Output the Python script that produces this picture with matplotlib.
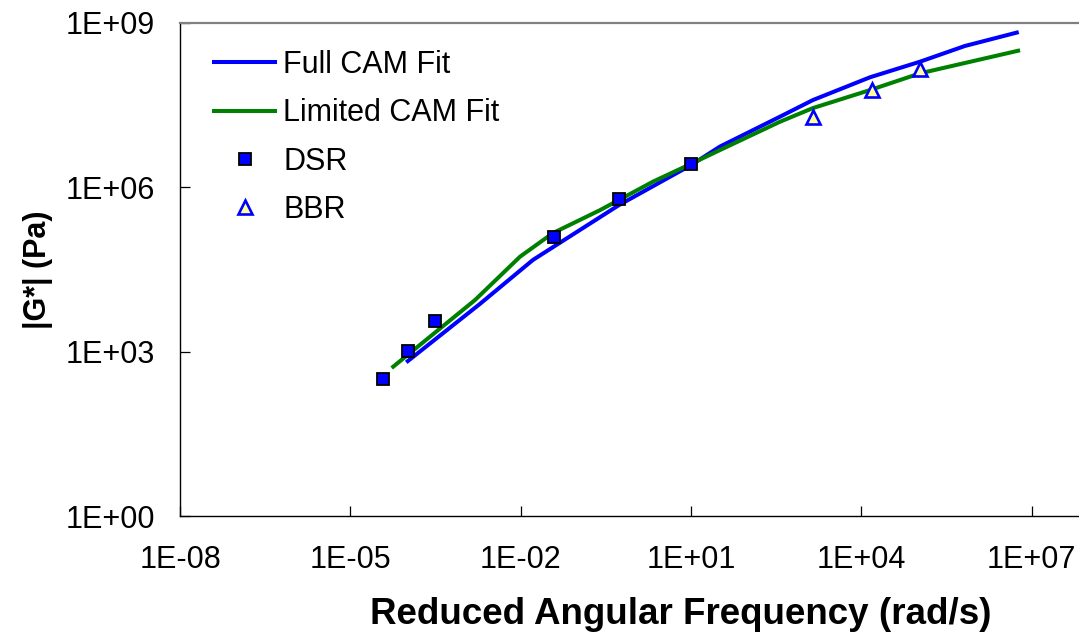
import matplotlib
import matplotlib.pyplot as plt
from matplotlib.ticker import FixedLocator, FuncFormatter, NullLocator
import math

matplotlib.use('Agg')
plt.rcParams['font.family'] = ['Liberation Sans', 'DejaVu Sans']

W, H = 1079, 633

dsr_freq = [3.8e-5, 1.03e-4, 3.1e-4, 3.9e-2, 0.55, 9.9]
dsr_g = [315, 1020, 3550, 1.24e5, 6.1e5, 2.64e6]

bbr_freq = [1.4e3, 1.57e4, 1.08e5]
bbr_g = [1.93e7, 5.9e7, 1.43e8]

full_freq = [1.03e-4, 1.92e-3, 1.65e-2, 0.54, 9.9, 32.5, 371, 1.41e3, 1.43e4, 1.08e5, 6.7e5, 5.5e6]
full_g = [670, 7.4e3, 4.7e4, 4.7e5, 2.5e6, 5.5e6, 1.93e7, 3.88e7, 1.01e8, 1.94e8, 3.76e8, 6.6e8]

limited_freq = [5.7e-5, 1.57e-3, 9.8e-3, 3.7e-2, 0.25, 2.15, 9.9, 32.5, 371, 1.41e3, 1.43e4, 1.08e5,
                6.7e5, 5.8e6]
limited_g = [530, 8.7e3, 5.4e4, 1.45e5, 3.8e5, 1.26e6, 2.64e6, 4.75e6, 1.56e7, 2.77e7, 5.9e7, 1.19e8,
             1.84e8, 3.08e8]

x_ticks = [1e-8, 1e-5, 1e-2, 1e1, 1e4, 1e7]
y_ticks = [1e0, 1e3, 1e6, 1e9]


def sci_label(v, pos=None):
    return f'1E{int(round(math.log10(v))):+03d}'


fig = plt.figure(figsize=(W / 100, H / 100), dpi=100)
# plot area: 1E-08 at x=180, 1E+08 falls just past the right edge
left, right = 180 / W, 1088.3 / W
bottom, top = (H - 516) / H, (H - 22.7) / H
ax = fig.add_axes([left, bottom, right - left, top - bottom])

ax.set_xscale('log')
ax.set_yscale('log')
ax.set_xlim(1e-8, 1e8)
ax.set_ylim(1e0, 1e9)

ax.plot(full_freq, full_g, color='#0000FF', lw=2.9, label='Full CAM Fit', zorder=3)
ax.plot(limited_freq, limited_g, color='#008000', lw=2.9, label='Limited CAM Fit', zorder=3)
ax.plot(dsr_freq, dsr_g, ls='none', marker='s', ms=8.2, mfc='#0000FF', mec='black', mew=1.3,
        label='DSR', zorder=4)
ax.plot(bbr_freq, bbr_g, ls='none', marker='^', ms=10.5, mfc='#FFFF99', mec='#0000FF', mew=1.9,
        label='BBR', zorder=4)

ax.xaxis.set_major_locator(FixedLocator(x_ticks))
ax.yaxis.set_major_locator(FixedLocator(y_ticks))
ax.xaxis.set_minor_locator(NullLocator())
ax.yaxis.set_minor_locator(NullLocator())
ax.xaxis.set_major_formatter(FuncFormatter(sci_label))
ax.yaxis.set_major_formatter(FuncFormatter(sci_label))
ax.tick_params(axis='both', direction='in', length=7.5, width=0.9, labelsize=22)
ax.tick_params(axis='x', pad=21)
ax.tick_params(axis='y', pad=18)

ax.spines['right'].set_visible(False)
ax.spines['top'].set_color('#808080')
ax.spines['top'].set_linewidth(1.6)
ax.spines['left'].set_linewidth(1.0)
ax.spines['bottom'].set_linewidth(1.0)

fig.text(681 / W, 1 - 614 / H, 'Reduced Angular Frequency (rad/s)', ha='center', va='center',
         fontsize=26.5, fontweight='bold')
fig.text(38 / W, 1 - 270 / H, '|G*| (Pa)', ha='center', va='center', rotation=90,
         fontsize=22, fontweight='bold')

ax.legend(loc='upper left', bbox_to_anchor=(214 / W, 1 - 50 / H), bbox_transform=fig.transFigure,
          frameon=False, fontsize=22, handlelength=2.0, handletextpad=0.27, labelspacing=0.6,
          borderpad=0, borderaxespad=0)

fig.savefig('out.png', dpi=100)
